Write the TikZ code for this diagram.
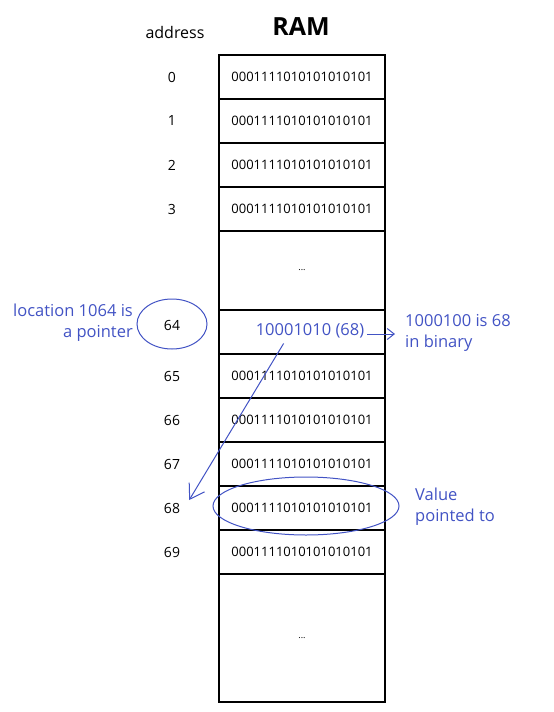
\documentclass[tikz,border=0pt]{standalone}
\usepackage{fontspec}
\setmainfont{Open Sans}
\usepackage{xcolor}
\usetikzlibrary{arrows.meta,positioning,calc,shapes.geometric}
\definecolor{penblue}{RGB}{66,83,196}

\begin{document}
\begin{tikzpicture}[x=1pt, y=-1pt,
    cell/.style={rectangle, draw=black, line width=1.3pt, minimum width=166pt,
                 minimum height=44pt, inner sep=0pt, font=\fontsize{13}{15}\selectfont},
    addr/.style={font=\fontsize{14}{16}\selectfont, inner sep=1pt},
    note/.style={text=penblue, font=\fontsize{16.5}{21}\selectfont, inner sep=0pt},
    ring/.style={ellipse, draw=penblue, line width=1pt, inner sep=0pt}]
\useasboundingbox (0,0) rectangle (554,712);
% headings
\node[font=\fontsize{16}{18}\selectfont] (addrhead) at (175,32) {address};
\node[font=\bfseries\fontsize{25}{28}\selectfont] (ramhead) at (301,27) {RAM};
% memory cells and their addresses
\foreach \n/\y in {0/77,1/121,2/165,3/209,65/376,66/420,67/464,68/508,69/552} {
    \node[cell] (c\n) at (302,\y) {0001111010101010101};
    \node[addr] (a\n) at (172,\y) {\n};
}
\node[cell, minimum height=79pt] (gapA) at (302,270.5) {\small ...};
\node[cell, minimum height=128pt] (gapB) at (302,638) {\small ...};
\node[cell] (c64) at (302,332) {};
\node[addr] (a64) at (172,325) {64};
\node[note] (val) at (310,331) {10001010 (68)};
% blue notes
\node[note, align=right, anchor=east] (ptrnote) at (133,323) {location 1064 is\\a pointer};
\node[note, align=left, anchor=west] (binnote) at (405,333) {1000100 is 68\\in binary};
\node[note, align=left, anchor=west] (valnote) at (415,507) {Value\\pointed to};
\node[ring, minimum width=70pt, minimum height=50pt] (ring64) at (172,324) {};
\node[ring, minimum width=186pt, minimum height=58pt] (ring68) at (306,506) {};
% arrows
\draw[-{Straight Barb[length=7pt,width=11pt]}, penblue, line width=1pt]
    ([xshift=3pt,yshift=-3pt]val.east) -- ([xshift=-10pt,yshift=-3pt]binnote.west |- val.east);
\draw[-{Straight Barb[length=14pt,width=18pt]}, penblue, line width=1pt]
    ([xshift=28pt,yshift=-5pt]val.south west) -- ([xshift=8pt,yshift=8pt]a68.east);
\end{tikzpicture}
\end{document}
